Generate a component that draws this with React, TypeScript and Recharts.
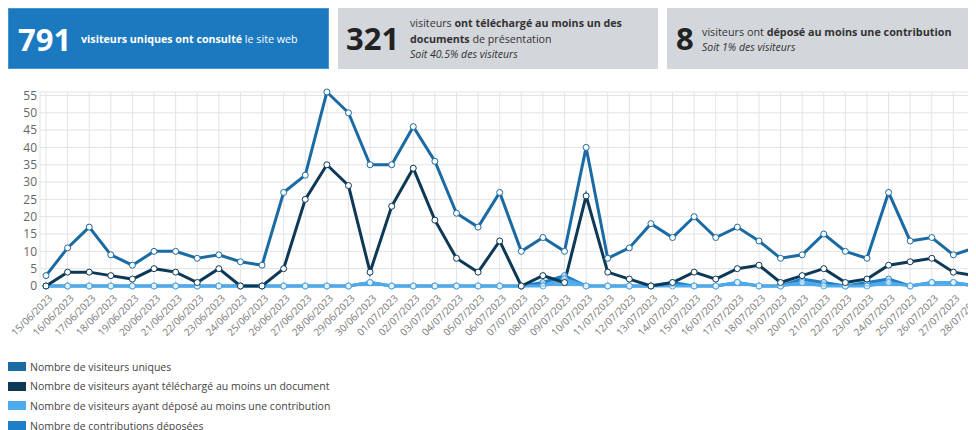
import React from "react";
import { ComposedChart, Line, Area, XAxis, YAxis, CartesianGrid } from "recharts";

const dates = [
  "15/06/2023", "16/06/2023", "17/06/2023", "18/06/2023", "19/06/2023", "20/06/2023", "21/06/2023", "22/06/2023",
  "23/06/2023", "24/06/2023", "25/06/2023", "26/06/2023", "27/06/2023", "28/06/2023", "29/06/2023", "30/06/2023",
  "01/07/2023", "02/07/2023", "03/07/2023", "04/07/2023", "05/07/2023", "06/07/2023", "07/07/2023", "08/07/2023",
  "09/07/2023", "10/07/2023", "11/07/2023", "12/07/2023", "13/07/2023", "14/07/2023", "15/07/2023", "16/07/2023",
  "17/07/2023", "18/07/2023", "19/07/2023", "20/07/2023", "21/07/2023", "22/07/2023", "23/07/2023", "24/07/2023",
  "25/07/2023", "26/07/2023", "27/07/2023", "28/07/2023",
];

const uniqueVisitors = [
  3, 11, 17, 9, 6, 10, 10, 8, 9, 7, 6, 27, 32, 56, 50, 35,
  35, 46, 36, 21, 17, 27, 10, 14, 10, 40, 8, 11, 18, 14, 20, 14, 17, 13, 8, 9, 15, 10, 8, 27, 13, 14, 9, 11,
];

const downloaders = [
  0, 4, 4, 3, 2, 5, 4, 1, 5, 0, 0, 5, 25, 35, 29, 4,
  23, 34, 19, 8, 4, 13, 0, 3, 1, 26, 4, 2, 0, 1, 4, 2, 5, 6, 1, 3, 5, 1, 2, 6, 7, 8, 4, 3,
];

const contributors = [
  0, 0, 0, 0, 0, 0, 0, 0, 0, 0, 0, 0, 0, 0, 0, 1,
  0, 0, 0, 0, 0, 0, 0, 0, 2, 0, 0, 0, 0, 0, 0, 0, 1, 0, 0, 1, 0, 0, 0, 1, 0, 1, 1, 0,
];

const contributions = [
  0, 0, 0, 0, 0, 0, 0, 0, 0, 0, 0, 0, 0, 0, 0, 1,
  0, 0, 0, 0, 0, 0, 0, 1, 3, 0, 0, 0, 0, 1, 0, 0, 1, 0, 0, 2, 1, 0, 1, 2, 0, 1, 1, 0,
];

const yTicks = [0, 5, 10, 15, 20, 25, 30, 35, 40, 45, 50, 55];

const seriesNames = [
  "Nombre de visiteurs uniques",
  "Nombre de visiteurs ayant téléchargé au moins un document",
  "Nombre de visiteurs ayant déposé au moins une contribution",
  "Nombre de contributions déposées",
];

const C_UNIQUE = "#1a6aa3";
const C_DOWN = "#0d3856";
const C_CONTRIB = "#4eaaea";
const C_CONTRIBS = "#1e7fc6";
const colors = [C_UNIQUE, C_DOWN, C_CONTRIB, C_CONTRIBS];

const data = dates.map((d, i) => ({
  date: d,
  unique: uniqueVisitors[i],
  down: downloaders[i],
  contrib: contributors[i],
  contribs: contributions[i],
}));

const FONT = "'Open Sans', 'DejaVu Sans', sans-serif";

const XTick = (props: any) => {
  const { x, y, payload } = props;
  return (
    <g transform={`translate(${x + 7},${y + 13})`}>
      <text
        x={0}
        y={0}
        textAnchor="end"
        transform="rotate(-45)"
        fontSize={10}
        fill="#777"
        fontFamily={FONT}
      >
        {payload.value}
      </text>
    </g>
  );
};

const dot = (color: string) => ({ r: 3, fill: "#fff", stroke: color, strokeWidth: 1 });

export default function App() {
  return (
    <div style={{ position: "relative", width: 968, height: 422, overflow: "hidden", fontFamily: FONT }}>
      {/* Header boxes */}
      <div style={{ position: "absolute", left: 0, top: 0, width: 321, height: 61, background: "#1a79bf", boxSizing: "border-box", border: "1px solid #4a95d0" }}>
        <div style={{ position: "absolute", left: 9, top: 11, fontSize: 31, fontWeight: 700, color: "#fff", lineHeight: "38px" }}>791</div>
        <div style={{ position: "absolute", left: 72, top: 23, fontSize: 10.7, color: "#fff", whiteSpace: "nowrap" }}>
          <b>visiteurs uniques ont consulté</b> le site web
        </div>
      </div>
      <div style={{ position: "absolute", left: 330, top: 0, width: 320, height: 61, background: "#d3d6db" }}>
        <div style={{ position: "absolute", left: 8, top: 11, fontSize: 31, fontWeight: 700, color: "#222", lineHeight: "38px" }}>321</div>
        <div style={{ position: "absolute", left: 72, top: 8, fontSize: 10.7, color: "#333", lineHeight: "15.5px", whiteSpace: "nowrap" }}>
          <div>visiteurs <b>ont téléchargé au moins un des</b></div>
          <div><b>documents</b> de présentation</div>
          <div style={{ fontStyle: "italic", fontSize: 10.5 }}>Soit 40.5% des visiteurs</div>
        </div>
      </div>
      <div style={{ position: "absolute", left: 659, top: 0, width: 320, height: 61, background: "#d3d6db" }}>
        <div style={{ position: "absolute", left: 9, top: 11, fontSize: 31, fontWeight: 700, color: "#222", lineHeight: "38px" }}>8</div>
        <div style={{ position: "absolute", left: 35, top: 16, fontSize: 10.8, color: "#333", lineHeight: "15.5px", whiteSpace: "nowrap" }}>
          <div>visiteurs ont <b>déposé au moins une contribution</b></div>
          <div style={{ fontStyle: "italic", fontSize: 10.5 }}>Soit 1% des visiteurs</div>
        </div>
      </div>

      {/* Chart */}
      <div style={{ position: "absolute", left: 0, top: 72 }}>
        <ComposedChart
          width={980}
          height={266}
          data={data}
          margin={{ top: 12, right: 7, bottom: 0, left: 0 }}
        >
          <CartesianGrid stroke="#e3e3e3" strokeWidth={1} />
          <XAxis
            dataKey="date"
            interval={0}
            height={60}
            axisLine={false}
            tickLine={false}
            tickSize={0}
            tickMargin={0}
            padding={{ left: 6, right: 6 }}
            tick={<XTick />}
          />
          <YAxis
            width={32}
            domain={[0, 56]}
            ticks={yTicks}
            axisLine={false}
            tickLine={false}
            tickSize={0}
            tickMargin={3}
            interval={0}
            tick={{ fontSize: 12, fill: "#666", fontFamily: FONT }}
          />
          <Area
            type="linear"
            dataKey="contribs"
            stroke={C_CONTRIBS}
            strokeWidth={3}
            fill={C_CONTRIBS}
            fillOpacity={0.6}
            dot={dot(C_CONTRIBS)}
            isAnimationActive={false}
          />
          <Area
            type="linear"
            dataKey="contrib"
            stroke={C_CONTRIB}
            strokeWidth={3}
            fill={C_CONTRIB}
            fillOpacity={0.6}
            dot={dot(C_CONTRIB)}
            isAnimationActive={false}
          />
          <Line
            type="linear"
            dataKey="down"
            stroke={C_DOWN}
            strokeWidth={3}
            dot={dot(C_DOWN)}
            isAnimationActive={false}
          />
          <Line
            type="linear"
            dataKey="unique"
            stroke={C_UNIQUE}
            strokeWidth={3}
            dot={dot(C_UNIQUE)}
            isAnimationActive={false}
          />
        </ComposedChart>
      </div>

      {/* Legend */}
      <div style={{ position: "absolute", left: 0, top: 349 }}>
        {seriesNames.map((name, i) => (
          <div key={name} style={{ display: "flex", alignItems: "center", height: 19.6 }}>
            <div style={{ width: 18, height: 9, background: colors[i], marginRight: 4 }} />
            <span style={{ fontSize: 10.5, color: "#444", whiteSpace: "nowrap" }}>{name}</span>
          </div>
        ))}
      </div>
    </div>
  );
}
